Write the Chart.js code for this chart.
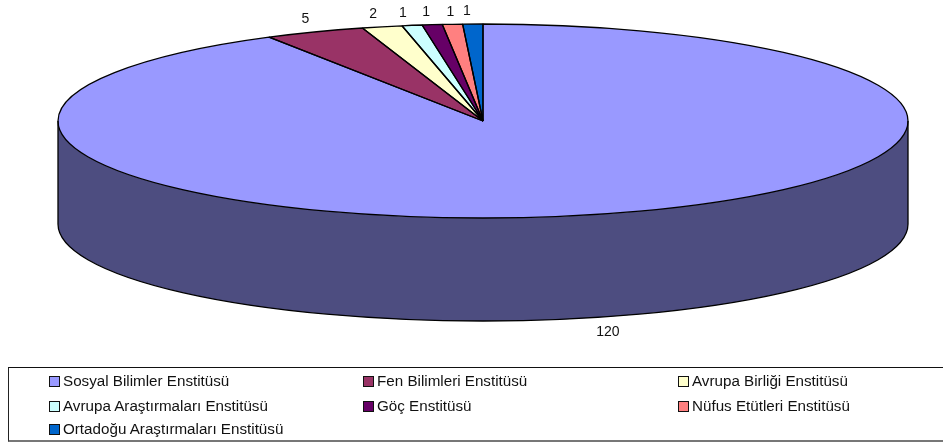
<!DOCTYPE html>
<html>
<head>
<meta charset="utf-8">
<style>
    html, body { margin: 0; padding: 0; background: #fff; overflow: hidden; }
    #wrap { position: relative; width: 943px; height: 444px; }
    #legendBox {
        position: absolute; left: 8px; top: 367px; width: 940px; height: 72px;
        border-top: 1px solid #111; border-left: 1px solid #222; border-bottom: 2px solid #777;
    }
    .item {
        position: absolute; height: 16px; line-height: 16px; white-space: nowrap;
        font: 14px "Liberation Sans", Arial, sans-serif; color: #111;
    }
    .item i {
        position: absolute; left: 0; top: 3px; width: 9px; height: 9px;
        border: 1px solid #111;
    }
    /* the original legend text is a bit stretched sideways */
    .item span { position: absolute; left: 14px; top: 0; transform: scaleX(1.085); transform-origin: left center; }
</style>
</head>
<body>
<div id="wrap">
    <canvas id="pieChart" width="943" height="444"></canvas>
    <div id="legendBox"></div>
</div>
<script src="https://cdn.jsdelivr.net/npm/chart.js@4"></script>
<script>
const categories = [
    "Sosyal Bilimler Enstitüsü", "Fen Bilimleri Enstitüsü", "Avrupa Birliği Enstitüsü",
    "Avrupa Araştırmaları Enstitüsü", "Göç Enstitüsü", "Nüfus Etütleri Enstitüsü",
    "Ortadoğu Araştırmaları Enstitüsü"
];
const values = [120, 5, 2, 1, 1, 1, 1];
const colors = ["#9999ff", "#993366", "#ffffcc", "#ccffff", "#660066", "#ff8080", "#0066cc"];
const sideColor = "#4d4d80";

// how flat the pie looks and how tall its rim is
const squash = 97 / 425;
const depth = 103;
// small shifts so the value labels sit where the original has them
const labelShift = [[14, 14], [-9, -13], [-9, -13], [-9, -12.5], [-6, -12.5], [-2, -12.5], [-6, -12.5]];

// Chart.js only draws round pies, so the arcs get squashed here and the rim is added
const tiltPlugin = {
    id: "tilt",
    beforeDatasetsDraw(chart) {
        const ctx = chart.ctx;
        const arcs = chart.getDatasetMeta(0).data;
        const { x, y, outerRadius: r } = arcs[0];
        const ry = r * squash;

        // rim, only the front half of the ellipse can be seen
        ctx.save();
        arcs.forEach(arc => {
            const from = Math.max(arc.startAngle, 0);
            const to = Math.min(arc.endAngle, Math.PI);
            if (to <= from) return;
            ctx.beginPath();
            ctx.ellipse(x, y + depth, r, ry, 0, from, to);
            ctx.ellipse(x, y, r, ry, 0, to, from, true);
            ctx.closePath();
            ctx.fillStyle = sideColor;
            ctx.fill();
        });
        ctx.restore();

        ctx.save();
        ctx.translate(x, y);
        ctx.scale(1, squash);
        ctx.translate(-x, -y);
    },
    afterDatasetsDraw(chart) {
        const ctx = chart.ctx;
        ctx.restore();

        const arcs = chart.getDatasetMeta(0).data;
        const { x, y, outerRadius: r } = arcs[0];
        const ry = r * squash;

        ctx.save();
        ctx.strokeStyle = "#000";
        ctx.lineWidth = 1.3;
        ctx.lineJoin = "bevel";
        // rim outline
        ctx.beginPath();
        ctx.moveTo(x - r, y);
        ctx.lineTo(x - r, y + depth);
        ctx.ellipse(x, y + depth, r, ry, 0, Math.PI, 0, true);
        ctx.lineTo(x + r, y);
        ctx.stroke();
        // slice outlines
        arcs.forEach(arc => {
            ctx.beginPath();
            ctx.moveTo(x, y);
            ctx.ellipse(x, y, r, ry, 0, arc.startAngle, arc.endAngle);
            ctx.closePath();
            ctx.stroke();
        });

        // value labels
        ctx.fillStyle = "#111";
        ctx.font = '14px "Liberation Sans", Arial, sans-serif';
        ctx.textAlign = "center";
        ctx.textBaseline = "middle";
        arcs.forEach((arc, i) => {
            const mid = (arc.startAngle + arc.endAngle) / 2;
            const lx = x + Math.cos(mid) * r + labelShift[i][0];
            const ly = y + Math.sin(mid) * ry + (Math.sin(mid) > 0 ? depth : 0) + labelShift[i][1];
            ctx.fillText(values[i], lx, ly);
        });
        ctx.restore();
    }
};

new Chart(document.getElementById("pieChart"), {
    type: "pie",
    data: {
        labels: categories,
        datasets: [{
            data: values,
            backgroundColor: colors,
            borderWidth: 0
        }]
    },
    options: {
        responsive: false,
        animation: false,
        radius: 425,
        layout: { padding: { left: 23, top: 0, right: 0, bottom: 202 } },
        plugins: { legend: { display: false }, tooltip: { enabled: false } }
    },
    plugins: [tiltPlugin]
});

// legend, three columns like in the original
const legendBox = document.getElementById("legendBox");
categories.forEach((name, i) => {
    const left = [40, 354, 669][i % 3];
    const top = [5, 30, 53][Math.floor(i / 3)];
    legendBox.innerHTML += `
        <div class="item" style="left:${left}px;top:${top}px">
            <i style="background:${colors[i]}"></i><span>${name}</span>
        </div>`;
});
</script>
</body>
</html>
